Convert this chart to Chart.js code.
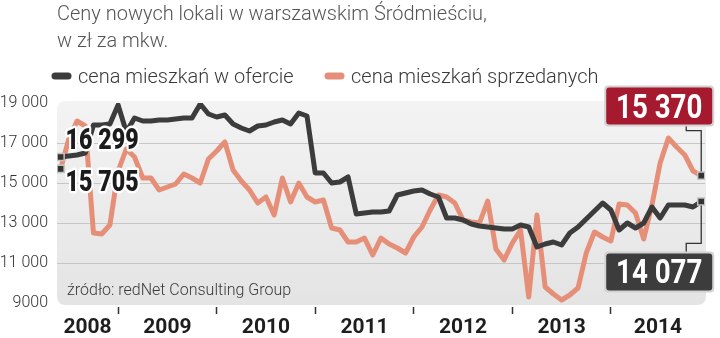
<!DOCTYPE html>
<html>
<head>
<meta charset="utf-8">
<script src="https://cdn.jsdelivr.net/npm/chart.js@4.4.1/dist/chart.umd.min.js"></script>
<style>
  html, body { margin: 0; padding: 0; background: #fff; }
  canvas { display: block; }
</style>
</head>
<body>
<canvas id="ceny" width="720" height="338"></canvas>
<script>
// okres: od czerwca 2008 do grudnia 2014, dane miesięczne
const firstYear = 2008;
const firstMonth = 6;
const years = [2008, 2009, 2010, 2011, 2012, 2013, 2014];
const yTicks = [9000, 11000, 13000, 15000, 17000, 19000];

// cena mieszkań w ofercie, zł/mkw.
const offerPrices = [
  16299, 16350, 16400, 16500, 17900, 17900, 17950, 18900, 17550, 18250,
  18100, 18100, 18150, 18150, 18200, 18250, 18250, 18950, 18450, 18300,
  18400, 17950, 17750, 17600, 17850, 17900, 18050, 18150, 17950, 18500,
  18350, 15500, 15500, 15000, 15050, 15300, 13450, 13500, 13550, 13550,
  13600, 14400, 14500, 14600, 14650, 14450, 14300, 13250, 13250, 13150,
  12950, 12850, 12800, 12750, 12700, 12700, 12900, 12800, 11800, 11950,
  12050, 11900, 12500, 12800, 13200, 13600, 14000, 13650, 12650, 13000,
  12750, 13000, 13800, 13250, 13900, 13900, 13900, 13800, 14077
];

// cena mieszkań sprzedanych, zł/mkw.
const soldPrices = [
  15705, 17200, 18100, 17850, 12500, 12450, 12900, 15600, 16700, 16300,
  15250, 15250, 14650, 14800, 14950, 15450, 15250, 15000, 16200, 16600,
  17050, 15650, 15100, 14650, 14000, 14300, 13400, 15250, 14050, 15000,
  14300, 14050, 14150, 12750, 12650, 12050, 12050, 12250, 11400, 12250,
  11950, 11750, 11500, 12300, 12800, 13650, 14400, 14300, 14000, 13150,
  13050, 13000, 14100, 11700, 11150, 12000, 12650, 9300, 13400, 9800,
  9450, 9150, 9400, 9750, 11500, 12550, 12300, 12100, 13950, 13900,
  13500, 12200, 13900, 16000, 17250, 16800, 16400, 15600, 15370
];

const OFFER_COLOR = '#3c3c3c';
const SOLD_COLOR = '#e68f78';

// pozycja miesiąca na osi czasu (rok ułamkowy)
const monthTimes = offerPrices.map((_, i) => firstYear + (firstMonth - 1 + i) / 12);

const X_MIN = 2008.38;
const X_MAX = 2014.955;

function formatPrice(v) {
  const s = String(Math.round(v));
  return v >= 10000 ? s.replace(/\B(?=(\d{3})+(?!\d))/g, ' ') : s;
}

function squeezeText(ctx, text, x, y, font, sx, color, align, halo) {
  ctx.save();
  ctx.font = font;
  ctx.translate(x, y);
  ctx.scale(sx, 1);
  ctx.textAlign = align || 'left';
  ctx.textBaseline = 'alphabetic';
  if (halo) {
    ctx.lineJoin = 'round';
    ctx.lineWidth = halo;
    ctx.strokeStyle = '#ffffff';
    ctx.strokeText(text, 0, 0);
  }
  ctx.fillStyle = color;
  ctx.fillText(text, 0, 0);
  ctx.restore();
}

function roundRect(ctx, x, y, w, h, r) {
  ctx.beginPath();
  ctx.moveTo(x + r, y);
  ctx.lineTo(x + w - r, y);
  ctx.quadraticCurveTo(x + w, y, x + w, y + r);
  ctx.lineTo(x + w, y + h - r);
  ctx.quadraticCurveTo(x + w, y + h, x + w - r, y + h);
  ctx.lineTo(x + r, y + h);
  ctx.quadraticCurveTo(x, y + h, x, y + h - r);
  ctx.lineTo(x, y + r);
  ctx.quadraticCurveTo(x, y, x + r, y);
  ctx.closePath();
}

// szare tło pola wykresu
const plotBackground = {
  id: 'plotBackground',
  beforeDraw(chart) {
    const { ctx, chartArea: a } = chart;
    const g = ctx.createLinearGradient(0, a.top, 0, a.bottom);
    g.addColorStop(0, '#f3f3f3');
    g.addColorStop(1, '#e4e4e4');
    ctx.save();
    roundRect(ctx, a.left, a.top - 2, a.right - a.left + 1, a.bottom - a.top + 4, 9);
    ctx.fillStyle = g;
    ctx.fill();
    ctx.restore();
  }
};

// tytuł, legenda, źródło i etykiety wartości
const decorations = {
  id: 'decorations',
  afterDatasetsDraw(chart) {
    const { ctx, chartArea: a } = chart;
    const xs = chart.scales.x, ys = chart.scales.y;
    const last = offerPrices.length - 1;

    // źródło
    squeezeText(ctx, 'źródło: redNet Consulting Group', a.left + 10, a.bottom - 8,
      '300 16px Roboto', 1, '#3a3a3a');

    // etykiety wartości początkowych
    const x0 = xs.getPixelForValue(monthTimes[0]);
    squeezeText(ctx, formatPrice(offerPrices[0]), x0 + 5, ys.getPixelForValue(offerPrices[0]) - 8,
      '900 29px Roboto', 0.8, '#1b1b1b', 'left', 5);
    squeezeText(ctx, formatPrice(soldPrices[0]), x0 + 5, ys.getPixelForValue(soldPrices[0]) + 22,
      '900 29px Roboto', 0.8, '#1b1b1b', 'left', 5);

    // etykiety wartości końcowych z odnośnikami
    const xe = xs.getPixelForValue(monthTimes[last]);
    const ySold = ys.getPixelForValue(soldPrices[last]);
    const yOffer = ys.getPixelForValue(offerPrices[last]);
    const boxW = 106, boxH = 37, boxRight = xe + 11;

    ctx.save();
    ctx.strokeStyle = '#333';
    ctx.lineWidth = 1.3;
    ctx.beginPath();
    ctx.moveTo(xe, ySold - 4);
    ctx.lineTo(xe, ySold - 45);
    ctx.lineTo(xe - 15, ySold - 45);
    ctx.lineTo(xe - 15, ySold - 51);
    ctx.moveTo(xe, yOffer + 4);
    ctx.lineTo(xe, yOffer + 42);
    ctx.lineTo(xe - 15, yOffer + 42);
    ctx.lineTo(xe - 15, yOffer + 52);
    ctx.stroke();
    ctx.restore();

    const boxes = [
      { v: soldPrices[last], top: ySold - 88, fill: '#a51a2e' },
      { v: offerPrices[last], top: yOffer + 52, fill: '#3c3c3c' }
    ];
    boxes.forEach(b => {
      ctx.save();
      roundRect(ctx, boxRight - boxW - 2, b.top - 2, boxW + 4, boxH + 4, 4);
      ctx.fillStyle = '#d2d2d2';
      ctx.fill();
      roundRect(ctx, boxRight - boxW, b.top, boxW, boxH, 3);
      ctx.fillStyle = b.fill;
      ctx.fill();
      ctx.restore();
      squeezeText(ctx, formatPrice(b.v), boxRight - boxW / 2, b.top + 30,
        'bold 33px Roboto', 0.84, '#ffffff', 'center');
    });
  },
  afterDraw(chart) {
    const { ctx } = chart;
    squeezeText(ctx, 'Ceny nowych lokali w warszawskim Śródmieściu,', 57, 20, '300 20px Roboto', 1, '#555');
    squeezeText(ctx, 'w zł za mkw.', 57, 47, '300 20px Roboto', 1, '#555');

    const items = [
      { label: chart.data.datasets[0].label, color: OFFER_COLOR, x: 52 },
      { label: chart.data.datasets[1].label, color: SOLD_COLOR, x: 325 }
    ];
    items.forEach(it => {
      ctx.save();
      ctx.strokeStyle = it.color;
      ctx.lineWidth = 7;
      ctx.lineCap = 'round';
      ctx.beginPath();
      ctx.moveTo(it.x + 3, 76);
      ctx.lineTo(it.x + 16, 76);
      ctx.stroke();
      ctx.restore();
      squeezeText(ctx, it.label, it.x + 26, 83, '300 20px Roboto', 1, '#3a3a3a');
    });
  }
};

function endPoint(ctx) {
  const n = ctx.dataset.data.length;
  return ctx.dataIndex === 0 || ctx.dataIndex === n - 1 ? 5 : 0;
}

const pointStyle = {
  pointStyle: 'rect',
  pointRadius: endPoint,
  pointHoverRadius: endPoint,
  pointBackgroundColor: '#333',
  pointBorderColor: '#c4c4c4',
  pointBorderWidth: 1.5
};

new Chart(document.getElementById('ceny').getContext('2d'), {
  type: 'line',
  data: {
    datasets: [
      {
        label: 'cena mieszkań w ofercie',
        data: offerPrices.map((v, i) => ({ x: monthTimes[i], y: v })),
        borderColor: OFFER_COLOR,
        borderWidth: 5,
        borderJoinStyle: 'round',
        tension: 0,
        ...pointStyle
      },
      {
        label: 'cena mieszkań sprzedanych',
        data: soldPrices.map((v, i) => ({ x: monthTimes[i], y: v })),
        borderColor: SOLD_COLOR,
        borderWidth: 5,
        borderJoinStyle: 'round',
        tension: 0,
        ...pointStyle
      }
    ]
  },
  options: {
    responsive: false,
    animation: false,
    devicePixelRatio: 1,
    layout: { padding: { top: 103, right: 15, left: 0, bottom: 0 } },
    plugins: {
      legend: { display: false },
      tooltip: { enabled: false }
    },
    scales: {
      x: {
        type: 'linear',
        min: X_MIN,
        max: X_MAX,
        afterBuildTicks(scale) {
          const ticks = [];
          years.forEach(y => {
            if (y > X_MIN) ticks.push({ value: y });
            const mid = (Math.max(y, X_MIN) + Math.min(y + 1, X_MAX)) / 2;
            ticks.push({ value: mid });
          });
          scale.ticks = ticks;
        },
        afterFit(scale) { scale.height = 35; },
        border: { display: false },
        grid: {
          drawOnChartArea: false,
          drawTicks: true,
          tickLength: 11,
          tickWidth: 1.5,
          tickBorderDash: [0, 4, 7, 50],
          tickColor: ctx => (ctx.tick && Number.isInteger(ctx.tick.value)) ? '#333' : 'rgba(0,0,0,0)'
        },
        ticks: {
          autoSkip: false,
          maxRotation: 0,
          padding: 1,
          color: '#1e1e1e',
          font: { family: 'Roboto', size: 21, weight: 'bold' },
          callback: v => Number.isInteger(v) ? '' : String(Math.floor(v))
        }
      },
      y: {
        min: yTicks[0],
        max: yTicks[yTicks.length - 1],
        afterBuildTicks(scale) {
          scale.ticks = yTicks.map(v => ({ value: v }));
        },
        afterFit(scale) { scale.width = 57; },
        border: { display: false },
        grid: {
          drawTicks: false,
          lineWidth: 1,
          color: ctx => (ctx.tick && (ctx.tick.value === yTicks[0] || ctx.tick.value === yTicks[yTicks.length - 1]))
            ? 'rgba(0,0,0,0)' : '#c6c6c6'
        },
        ticks: {
          padding: 9,
          color: '#333',
          font: { family: 'Roboto', size: 16, weight: '300' },
          callback: v => formatPrice(v)
        }
      }
    }
  },
  plugins: [plotBackground, decorations]
});
</script>
</body>
</html>
